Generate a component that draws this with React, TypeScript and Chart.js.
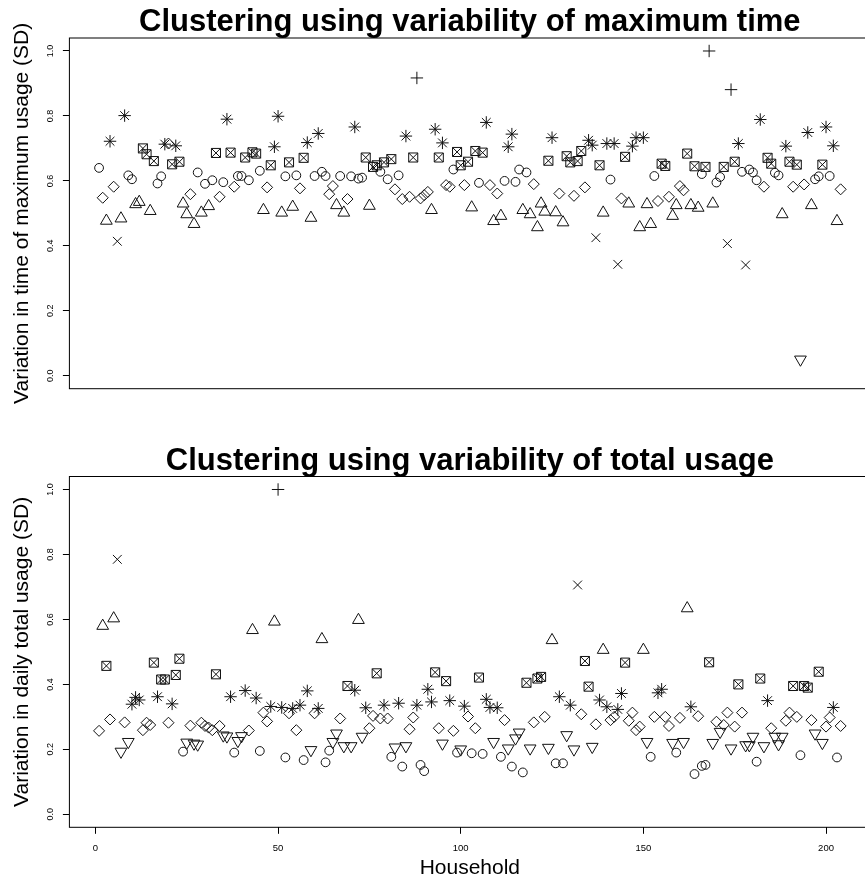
import { useEffect, useRef } from 'react';
import { Chart, registerables } from 'chart.js';

Chart.register(...registerables);

// ---------------- data ----------------
// cluster codes follow R's pch: 1 circle, 2 triangle, 3 plus, 4 cross, 5 diamond, 6 down-triangle, 7 boxed cross, 8 asterisk
const households: number[] = Array.from({ length: 204 }, (_, i) => i + 1);

const maxTimeVariation: number[] = [
  0.640, 0.548, 0.477, 0.722, 0.582, 0.414, 0.484, 0.801, 0.617, 0.605,
  0.528, 0.535, 0.700, 0.682, 0.507, 0.661, 0.592, 0.614, 0.713, 0.715,
  0.651, 0.708, 0.659, 0.530, 0.497, 0.559, 0.467, 0.626, 0.502, 0.591,
  0.522, 0.602, 0.686, 0.551, 0.596, 0.790, 0.687, 0.582, 0.615, 0.615,
  0.672, 0.602, 0.688, 0.684, 0.631, 0.510, 0.580, 0.648, 0.705, 0.799,
  0.502, 0.614, 0.657, 0.520, 0.617, 0.577, 0.671, 0.718, 0.486, 0.615,
  0.746, 0.628, 0.615, 0.559, 0.584, 0.525, 0.615, 0.502, 0.544, 0.614,
  0.766, 0.607, 0.610, 0.672, 0.523, 0.643, 0.648, 0.628, 0.657, 0.605,
  0.667, 0.574, 0.617, 0.544, 0.738, 0.551, 0.672, 0.917, 0.546, 0.556,
  0.566, 0.510, 0.759, 0.672, 0.717, 0.587, 0.582, 0.635, 0.689, 0.648,
  0.587, 0.659, 0.518, 0.692, 0.594, 0.687, 0.780, 0.587, 0.476, 0.561,
  0.492, 0.600, 0.705, 0.744, 0.597, 0.635, 0.510, 0.626, 0.497, 0.590,
  0.457, 0.530, 0.505, 0.662, 0.733, 0.503, 0.561, 0.472, 0.676, 0.657,
  0.554, 0.661, 0.692, 0.580, 0.725, 0.710, 0.425, 0.648, 0.502, 0.715,
  0.604, 0.715, 0.343, 0.546, 0.674, 0.530, 0.707, 0.733, 0.457, 0.733,
  0.528, 0.467, 0.615, 0.538, 0.653, 0.646, 0.551, 0.492, 0.525, 0.584,
  0.571, 0.684, 0.525, 0.645, 0.517, 0.621, 0.643, 1.000, 0.530, 0.595,
  0.612, 0.643, 0.407, 0.881, 0.659, 0.715, 0.628, 0.341, 0.635, 0.626,
  0.602, 0.789, 0.582, 0.671, 0.653, 0.625, 0.617, 0.497, 0.707, 0.659,
  0.582, 0.650, 0.050, 0.589, 0.749, 0.525, 0.605, 0.614, 0.650, 0.766,
  0.615, 0.708, 0.476, 0.574,
];

const maxTimeCluster: number[] = [
  1, 5, 2, 8, 5, 4, 2, 8, 1, 1,
  2, 2, 7, 7, 2, 7, 1, 1, 8, 5,
  7, 8, 7, 2, 2, 5, 2, 1, 2, 1,
  2, 1, 7, 5, 1, 8, 7, 5, 1, 1,
  7, 1, 7, 7, 1, 2, 5, 7, 8, 8,
  2, 1, 7, 2, 1, 5, 7, 8, 2, 1,
  8, 1, 1, 5, 5, 2, 1, 2, 5, 1,
  8, 1, 1, 7, 2, 7, 7, 1, 7, 1,
  7, 5, 1, 5, 8, 5, 7, 3, 5, 5,
  5, 2, 8, 7, 8, 5, 5, 1, 7, 7,
  5, 7, 2, 7, 1, 7, 8, 5, 2, 5,
  2, 1, 8, 8, 1, 1, 2, 1, 2, 5,
  2, 2, 2, 7, 8, 2, 5, 2, 7, 7,
  5, 7, 7, 5, 8, 8, 4, 7, 2, 8,
  1, 8, 4, 5, 7, 2, 8, 8, 2, 8,
  2, 2, 1, 5, 7, 7, 5, 2, 2, 5,
  5, 7, 2, 7, 2, 1, 7, 3, 2, 1,
  1, 7, 4, 3, 7, 8, 1, 4, 1, 1,
  1, 8, 5, 7, 7, 1, 1, 2, 8, 7,
  5, 7, 6, 5, 8, 2, 1, 1, 7, 8,
  1, 8, 2, 5,
];

const totalUsageVariation: number[] = [
  0.257, 0.580, 0.457, 0.292, 0.603, 0.785, 0.193, 0.283, 0.223, 0.339,
  0.360, 0.352, 0.259, 0.282, 0.275, 0.467, 0.362, 0.415, 0.415, 0.282,
  0.340, 0.429, 0.479, 0.193, 0.221, 0.273, 0.218, 0.215, 0.282, 0.272,
  0.267, 0.259, 0.431, 0.272, 0.243, 0.240, 0.362, 0.190, 0.226, 0.241,
  0.381, 0.258, 0.567, 0.358, 0.195, 0.313, 0.286, 0.332, 0.593, 1.000,
  0.329, 0.175, 0.311, 0.326, 0.259, 0.336, 0.167, 0.380, 0.198, 0.311,
  0.326, 0.539, 0.160, 0.196, 0.223, 0.249, 0.295, 0.210, 0.395, 0.210,
  0.382, 0.598, 0.239, 0.328, 0.265, 0.303, 0.434, 0.295, 0.336, 0.295,
  0.177, 0.206, 0.342, 0.147, 0.210, 0.262, 0.298, 0.336, 0.152, 0.133,
  0.385, 0.346, 0.437, 0.265, 0.218, 0.410, 0.350, 0.257, 0.190, 0.200,
  0.333, 0.301, 0.188, 0.265, 0.421, 0.186, 0.354, 0.329, 0.223, 0.328,
  0.177, 0.290, 0.203, 0.147, 0.234, 0.252, 0.129, 0.405, 0.203, 0.283,
  0.418, 0.423, 0.300, 0.205, 0.536, 0.157, 0.362, 0.157, 0.244, 0.336,
  0.200, 0.706, 0.308, 0.472, 0.393, 0.208, 0.277, 0.352, 0.506, 0.331,
  0.290, 0.300, 0.323, 0.372, 0.467, 0.288, 0.313, 0.259, 0.270, 0.506,
  0.223, 0.177, 0.300, 0.374, 0.385, 0.300, 0.272, 0.220, 0.190, 0.297,
  0.223, 0.634, 0.331, 0.124, 0.302, 0.149, 0.152, 0.468, 0.220, 0.285,
  0.254, 0.275, 0.313, 0.203, 0.270, 0.400, 0.313, 0.213, 0.213, 0.239,
  0.162, 0.418, 0.210, 0.350, 0.265, 0.239, 0.216, 0.239, 0.288, 0.313,
  0.395, 0.300, 0.182, 0.395, 0.390, 0.290, 0.249, 0.439, 0.220, 0.270,
  0.298, 0.329, 0.175, 0.272,
];

const totalUsageCluster: number[] = [
  5, 2, 7, 5, 2, 4, 6, 5, 6, 8,
  8, 8, 5, 5, 5, 7, 8, 7, 7, 5,
  8, 7, 7, 1, 6, 5, 6, 6, 5, 5,
  5, 5, 7, 5, 6, 6, 8, 1, 6, 6,
  8, 5, 2, 8, 1, 5, 5, 8, 2, 3,
  8, 1, 5, 8, 5, 8, 1, 8, 6, 5,
  8, 2, 1, 1, 6, 6, 5, 6, 7, 6,
  8, 2, 6, 8, 5, 5, 7, 5, 8, 5,
  1, 6, 8, 1, 6, 5, 5, 8, 1, 1,
  8, 8, 7, 5, 6, 7, 8, 5, 1, 6,
  8, 5, 1, 5, 7, 1, 8, 8, 6, 8,
  1, 5, 6, 1, 6, 6, 1, 7, 6, 5,
  7, 7, 5, 6, 2, 1, 8, 1, 6, 8,
  6, 4, 5, 7, 7, 6, 5, 8, 2, 8,
  5, 5, 8, 8, 7, 5, 5, 5, 5, 2,
  6, 1, 5, 8, 8, 5, 5, 6, 1, 5,
  6, 2, 8, 1, 5, 1, 1, 7, 6, 5,
  6, 5, 5, 6, 5, 7, 5, 6, 6, 6,
  1, 7, 6, 8, 5, 6, 6, 6, 5, 5,
  7, 5, 1, 7, 7, 5, 6, 7, 6, 5,
  5, 8, 1, 5,
];

const clusterIds: number[] = [1, 2, 3, 4, 5, 6, 7, 8];
const yTickValues: number[] = [0, 0.2, 0.4, 0.6, 0.8, 1.0];
const xTickValues: number[] = [0, 50, 100, 150, 200];

const topTitle = 'Clustering using variability of maximum time';
const topYLabel = 'Variation in time of maximum usage (SD)';
const bottomTitle = 'Clustering using variability of total usage';
const bottomYLabel = 'Variation in daily total usage (SD)';
const xLabel = 'Household';

// ---------------- styling ----------------
const FONT = '"Liberation Sans", Arial, Helvetica, sans-serif';
const INK = '#111';

// each R plotting symbol as one or more Chart.js point glyphs drawn on top of each other
type Glyph = { style: string; radius: number; rotation: number };
function pchGlyphs(id: number): Glyph[] {
  switch (id) {
    case 1: return [{ style: 'circle', radius: 4.4, rotation: 0 }];
    case 2: return [{ style: 'triangle', radius: 6.8, rotation: 0 }];
    case 3: return [{ style: 'cross', radius: 6.2, rotation: 0 }];
    case 4: return [{ style: 'crossRot', radius: 6.2, rotation: 0 }];
    case 5: return [{ style: 'rectRot', radius: 5.5, rotation: 0 }];
    case 6: return [{ style: 'triangle', radius: 6.8, rotation: 180 }];
    case 7: return [
      { style: 'rect', radius: 6.4, rotation: 0 },
      { style: 'crossRot', radius: 6.4, rotation: 0 },
    ];
    default: return [{ style: 'star', radius: 6.2, rotation: 0 }];
  }
}

const boxPlugin = {
  id: 'rbox',
  afterDatasetsDraw(chart: any) {
    const { ctx, chartArea: a } = chart;
    ctx.save();
    ctx.strokeStyle = '#000';
    ctx.lineWidth = 1;
    ctx.strokeRect(a.left, a.top, a.right - a.left, a.bottom - a.top);
    ctx.restore();
  },
};

function buildDatasets(values: number[], clusters: number[]) {
  const sets: any[] = [];
  clusterIds.forEach((id) => {
    const data = households
      .map((h, i) => ({ x: h, y: values[i], c: clusters[i] }))
      .filter((p) => p.c === id)
      .map((p) => ({ x: p.x, y: p.y }));
    pchGlyphs(id).forEach((g, k) => {
      sets.push({
        label: 'cluster ' + id + (k ? ' overlay' : ''),
        data,
        showLine: false,
        pointStyle: g.style,
        pointRadius: g.radius,
        pointRotation: g.rotation,
        pointBorderColor: INK,
        pointBackgroundColor: 'rgba(0,0,0,0)',
        pointBorderWidth: 1,
        pointHoverRadius: g.radius,
      });
    });
  });
  return sets;
}

function makeConfig(
  values: number[],
  clusters: number[],
  title: string,
  yLabel: string,
  showX: boolean,
  titlePad: { top: number; bottom: number },
  bottomPad: number,
  xHeight: number,
): any {
  return {
    type: 'scatter',
    data: { datasets: buildDatasets(values, clusters) },
    plugins: [boxPlugin],
    options: {
      animation: false,
      responsive: false,
      devicePixelRatio: 1,
      events: [],
      layout: { padding: { left: 0, right: 9.7, top: 0, bottom: bottomPad } },
      plugins: {
        legend: { display: false },
        tooltip: { enabled: false },
        title: {
          display: true,
          text: title,
          fullSize: false,
          color: '#000',
          font: { family: FONT, size: 31, weight: 'bold', lineHeight: 1 },
          padding: titlePad,
        },
      },
      scales: {
        x: {
          type: 'linear',
          display: showX,
          min: -7.12,
          max: 212.12,
          afterBuildTicks: (s: any) => {
            s.ticks = xTickValues.map((v) => ({ value: v }));
          },
          afterFit: (s: any) => {
            s.height = xHeight;
          },
          ticks: {
            autoSkip: false,
            maxRotation: 0,
            minRotation: 0,
            padding: 8.5,
            color: '#000',
            font: { family: FONT, size: 9.5 },
            callback: (v: number) => String(v),
          },
          grid: { drawOnChartArea: false, drawTicks: true, tickLength: 6.5, color: '#000', lineWidth: 1 },
          border: { display: false },
          title: {
            display: true,
            text: xLabel,
            color: '#000',
            font: { family: FONT, size: 21, lineHeight: 1.2 },
            padding: { top: 0, bottom: 0.9 },
          },
        },
        y: {
          type: 'linear',
          min: -0.04,
          max: 1.04,
          afterBuildTicks: (s: any) => {
            s.ticks = yTickValues.map((v) => ({ value: v }));
          },
          afterFit: (s: any) => {
            s.width = 69.4;
          },
          ticks: {
            autoSkip: false,
            minRotation: 90,
            maxRotation: 90,
            crossAlign: 'center',
            padding: 6.5,
            color: '#000',
            font: { family: FONT, size: 9 },
            callback: (v: number) => v.toFixed(1),
          },
          grid: { drawOnChartArea: false, drawTicks: true, tickLength: 6.5, color: '#000', lineWidth: 1 },
          border: { display: false },
          title: {
            display: true,
            text: yLabel,
            color: '#000',
            font: { family: FONT, size: 21, lineHeight: 1.2 },
            padding: { top: 9.4, bottom: 0 },
          },
        },
      },
    },
  };
}

export default function App() {
  const topRef = useRef<HTMLCanvasElement | null>(null);
  const bottomRef = useRef<HTMLCanvasElement | null>(null);

  useEffect(() => {
    const top = new Chart(
      topRef.current!,
      makeConfig(maxTimeVariation, maxTimeCluster, topTitle, topYLabel, false,
        { top: 7, bottom: 0 }, 41.3, 0),
    );
    const bottom = new Chart(
      bottomRef.current!,
      makeConfig(totalUsageVariation, totalUsageCluster, bottomTitle, bottomYLabel, true,
        { top: 15.5, bottom: 0 }, 0, 54.7),
    );
    return () => {
      top.destroy();
      bottom.destroy();
    };
  }, []);

  return (
    <div
      style={{
        position: 'fixed',
        left: 0,
        top: 0,
        width: 865,
        height: 882,
        overflow: 'hidden',
        background: '#fff',
      }}
    >
      <canvas ref={topRef} width={880} height={430} style={{ position: 'absolute', left: 0, top: 0 }} />
      <canvas ref={bottomRef} width={880} height={452} style={{ position: 'absolute', left: 0, top: 430 }} />
    </div>
  );
}
